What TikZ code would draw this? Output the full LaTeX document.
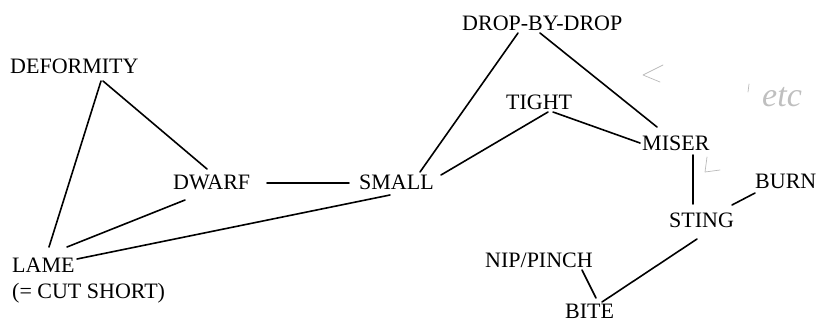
\documentclass[tikz,border=0pt]{standalone}
\usepackage{fontspec}
\setmainfont{Liberation Serif}
\usetikzlibrary{calc}
\begin{document}
\begin{tikzpicture}[x=1pt,y=-1pt,
  word/.style={inner sep=0pt,text depth=0pt,anchor=base west,
    font=\fontsize{22}{24}\selectfont},
  link/.style={line width=1.6pt,line cap=round},
  pencil/.style={gray!55,line width=0.7pt,line cap=round,line join=round}]
\useasboundingbox (0,0) rectangle (818,322);

% words
\node[word] (deform) at (10,73)  {DEFORMITY};
\node[word] (dwarf)  at (173,189) {DWARF};
\node[word] (small)  at (359,189) {SMALL};
\node[word] (lame)   at (12,272) {LAME};
\node[word] (cut)    at (12,298) {(= CUT SHORT)};
\node[word] (drop)   at (462,30)  {DROP-BY-DROP};
\node[word] (tight)  at (506,109) {TIGHT};
\node[word] (miser)  at (642,150) {MISER};
\node[word] (burn)   at (755,188) {BURN};
\node[word] (sting)  at (669,227) {STING};
\node[word] (nip)    at (485,267) {NIP/PINCH};
\node[word] (bite)   at (565,318) {BITE};

% connectors
\draw[link] ($(deform.base west)+(91,8)$) -- ($(lame.base west)+(37,-25)$);
\draw[link] ($(deform.base west)+(93,8)$) -- ($(dwarf.base west)+(34,-20)$);
\draw[link] ($(dwarf.base west)+(12,11)$) -- ($(lame.base west)+(55,-25)$);
\draw[link] ($(dwarf.base west)+(94,-6)$) -- ($(small.base west)+(-10,-6)$);
\draw[link] ($(small.base west)+(31,6)$) -- ($(lame.base west)+(65,-13)$);
\draw[link] ($(small.base west)+(82,-14)$) -- ($(tight.base west)+(42,3)$);
\draw[link] ($(small.base west)+(61,-17)$) -- ($(drop.base west)+(56,3)$);
\draw[link] ($(drop.base west)+(78,3)$) -- ($(miser.base west)+(15,-23)$);
\draw[link] ($(tight.base west)+(47,3)$) -- ($(miser.base west)+(-2,-7)$);
\draw[link] ($(miser.base west)+(51,5)$) -- ($(sting.base west)+(24,-23)$);
\draw[link] ($(sting.base west)+(63,-22)$) -- ($(burn.base west)+(0,5)$);
\draw[link] ($(sting.base west)+(28,12)$) -- ($(bite.base west)+(37,-16)$);
\draw[link] ($(nip.base west)+(97,3)$) -- ($(bite.base west)+(31,-20)$);

% faint pencil marks in the margin
\draw[pencil] (663,65) -- (643,75) -- (660,82);
\draw[pencil] (707,157) -- (705,172) -- (720,170);
\draw[pencil] (749,84) -- (748,92);
\node[inner sep=0pt,anchor=base west,text=gray!50,
  font=\itshape\fontsize{34}{36}\selectfont] (etc) at (762,106) {etc};
\end{tikzpicture}
\end{document}
